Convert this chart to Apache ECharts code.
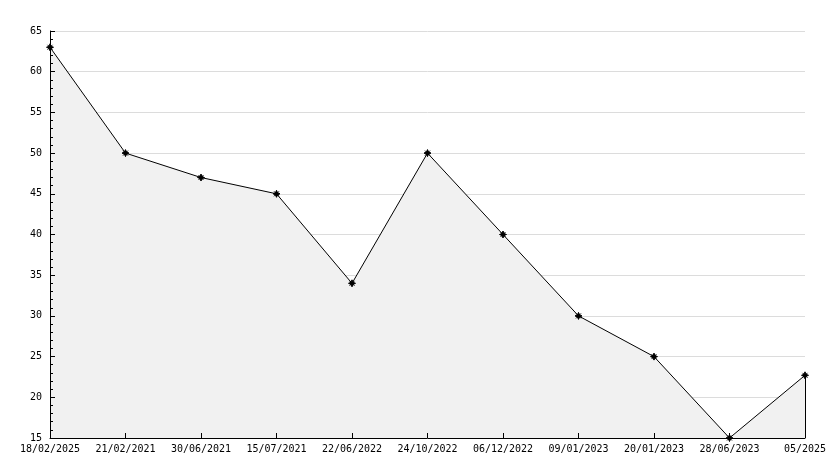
<!DOCTYPE html>
<html><head><meta charset="utf-8">
<script src="https://cdn.jsdelivr.net/npm/echarts@6/dist/echarts.min.js"></script>
<style>html,body{margin:0;padding:0;background:#fff}#c{width:834px;height:468px}</style>
</head><body><div id="c"></div>
<script>
const categories = ["18/02/2025","21/02/2021","30/06/2021","15/07/2021","22/06/2022","24/10/2022","06/12/2022","09/01/2023","20/01/2023","28/06/2023","05/2025"];
const values = [63, 50, 47, 45, 34, 50, 40, 30, 25, 15, 22.7];
const yTicks = {min: 15, max: 65, interval: 5};
const lastIdx = values.length - 1;

const chart = echarts.init(document.getElementById('c'), null, {renderer: 'canvas'});
const labelFont = {color: '#000', fontFamily: 'DejaVu Sans Mono', fontSize: 10};
chart.setOption({
  animation: false,
  backgroundColor: '#ffffff',
  grid: {left: 50, right: 29, top: 31, bottom: 30, containLabel: false},
  xAxis: {
    type: 'category',
    data: categories,
    boundaryGap: false,
    z: 5,
    axisLine: {lineStyle: {color: '#000', width: 1}},
    axisTick: {inside: true, length: 5, lineStyle: {color: '#000'}},
    axisLabel: Object.assign({margin: 6, interval: 0}, labelFont),
    splitLine: {show: false}
  },
  yAxis: [{
    type: 'value',
    min: yTicks.min, max: yTicks.max, interval: yTicks.interval,
    z: 0,
    axisLine: {show: false},
    axisTick: {show: false},
    axisLabel: {show: false},
    splitLine: {show: true, lineStyle: {color: '#dcdcdc', width: 1}}
  }, {
    type: 'value',
    position: 'left',
    min: yTicks.min, max: yTicks.max, interval: yTicks.interval,
    z: 5,
    axisLine: {show: true, lineStyle: {color: '#000', width: 1}},
    axisTick: {show: true, inside: true, length: 5, lineStyle: {color: '#000'}},
    minorTick: {show: true, splitNumber: 5, length: 3, lineStyle: {color: '#000'}},
    axisLabel: Object.assign({margin: 8}, labelFont),
    splitLine: {show: false}
  }],
  series: [{
    type: 'line',
    data: values,
    yAxisIndex: 0,
    symbol: 'path://M0,-5L1.5,-1.5L5,0L1.5,1.5L0,5L-1.5,1.5L-5,0L-1.5,-1.5Z M-3.5,-3.5L3.5,3.5 M3.5,-3.5L-3.5,3.5',
    symbolSize: 7,
    itemStyle: {color: '#000', borderColor: '#000', borderWidth: 1},
    lineStyle: {color: '#000', width: 1},
    areaStyle: {color: '#f1f1f1', opacity: 1},
    markLine: {
      silent: true,
      symbol: 'none',
      label: {show: false},
      lineStyle: {color: '#000', width: 1, type: 'solid'},
      data: [[{coord: [lastIdx, values[lastIdx]]}, {coord: [lastIdx, yTicks.min]}]]
    }
  }]
});
</script>
</body></html>
